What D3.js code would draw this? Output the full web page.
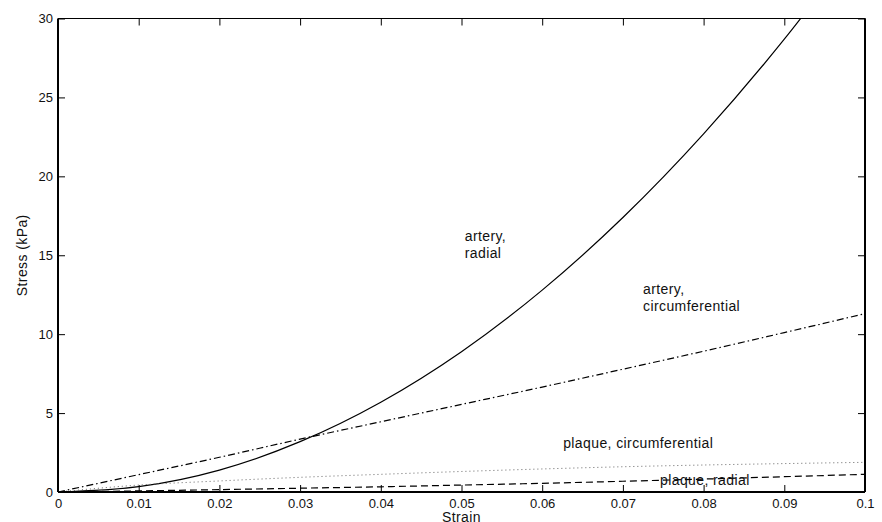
<!DOCTYPE html>
<html>
<head>
<meta charset="utf-8">
<script src="https://cdn.jsdelivr.net/npm/d3@7"></script>
<style>
  html, body { margin: 0; padding: 0; background: #fff; }
  svg { display: block; }
  text { font-family: "Liberation Sans", Arial, Helvetica, sans-serif; fill: #111; }
  .lbl { font-size: 14px; letter-spacing: 0.4px; }
</style>
</head>
<body>
<svg id="chart" width="882" height="522"></svg>
<script>
// ---- data ----
const strain = [0, 0.01, 0.02, 0.03, 0.04, 0.05, 0.06, 0.07, 0.08, 0.09, 0.1];
const arteryRadial = [0, 0.34, 1.39, 3.19, 5.69, 8.89, 12.79, 17.39, 22.69, 28.69, 35.39];
const arteryCircumferential = [0, 1.1, 2.2, 3.35, 4.45, 5.55, 6.65, 7.78, 8.92, 10.1, 11.3];
const plaqueCircumferential = [0, 0.44, 0.70, 0.93, 1.12, 1.30, 1.46, 1.60, 1.71, 1.80, 1.88];
const plaqueRadial = [0, 0.07, 0.15, 0.24, 0.33, 0.44, 0.55, 0.68, 0.82, 0.97, 1.12];
const xTicks = [0, 0.01, 0.02, 0.03, 0.04, 0.05, 0.06, 0.07, 0.08, 0.09, 0.1];
const xTickLabels = ["0", "0.01", "0.02", "0.03", "0.04", "0.05", "0.06", "0.07", "0.08", "0.09", "0.1"];
const yTicks = [0, 5, 10, 15, 20, 25, 30];
const xLabel = "Strain";
const yLabel = "Stress (kPa)";
const labels = [
  { lines: ["artery,", "radial"], x: 0.0504, y: 15.9 },
  { lines: ["artery,", "circumferential"], x: 0.0725, y: 12.55 },
  { lines: ["plaque, circumferential"], x: 0.0626, y: 2.81 },
  { lines: ["plaque, radial"], x: 0.0746, y: 0.44 }
];

// ---- layout ----
const svg = d3.select("#chart");
const x0 = 58, x1 = 865, y0 = 492, y1 = 18.5;

const x = d3.scaleLinear().domain([0, 0.1]).range([x0, x1]);
const y = d3.scaleLinear().domain([0, 30]).range([y0, y1]);

svg.append("defs").append("clipPath").attr("id", "clip")
  .append("rect").attr("x", x0).attr("y", y1).attr("width", x1 - x0).attr("height", y0 - y1);

// axes (ticks inward on all sides)
const tl = 7;
const styleText = g => g.selectAll("text").attr("font-size", 13)
  .style("font-family", "Liberation Sans, Arial, sans-serif").attr("fill", "#111");
svg.append("g").attr("transform", `translate(0,${y0})`)
  .call(d3.axisBottom(x).tickValues(xTicks).tickSizeInner(-tl).tickSizeOuter(0).tickPadding(7)
    .tickFormat((d, i) => xTickLabels[i]))
  .call(g => g.select(".domain").remove())
  .call(styleText);
svg.append("g").attr("transform", `translate(0,${y1})`)
  .call(d3.axisTop(x).tickValues(xTicks).tickSizeInner(-tl).tickSizeOuter(0).tickFormat(""))
  .call(g => g.select(".domain").remove());
svg.append("g").attr("transform", `translate(${x0},0)`)
  .call(d3.axisLeft(y).tickValues(yTicks).tickSizeInner(-tl).tickSizeOuter(0).tickPadding(5))
  .call(g => g.select(".domain").remove())
  .call(styleText);
svg.append("g").attr("transform", `translate(${x1},0)`)
  .call(d3.axisRight(y).tickValues(yTicks).tickSizeInner(-tl).tickSizeOuter(0).tickFormat(""))
  .call(g => g.select(".domain").remove());
svg.selectAll(".tick line").attr("stroke", "#000").attr("stroke-width", 1);

// curves
const line = d3.line().x(d => x(d[0])).y(d => y(d[1])).curve(d3.curveMonotoneX);
const series = [
  { v: arteryRadial, dash: null, color: "#000", w: 1.2 },
  { v: arteryCircumferential, dash: "7,3,1.5,3", color: "#000", w: 1.2 },
  { v: plaqueCircumferential, dash: "1,3", color: "#666", w: 1 },
  { v: plaqueRadial, dash: "7,4", color: "#000", w: 1.2 }
];
const gc = svg.append("g").attr("clip-path", "url(#clip)");
series.forEach(s => {
  gc.append("path")
    .datum(strain.map((t, i) => [t, s.v[i]]))
    .attr("d", line)
    .attr("fill", "none")
    .attr("stroke", s.color)
    .attr("stroke-width", s.w)
    .attr("stroke-dasharray", s.dash);
});

// box
svg.append("line").attr("x1", x0).attr("x2", x1).attr("y1", y1).attr("y2", y1).attr("stroke", "#000").attr("stroke-width", 1.2);
svg.append("line").attr("x1", x0).attr("x2", x1).attr("y1", y0).attr("y2", y0).attr("stroke", "#000").attr("stroke-width", 2);
svg.append("line").attr("x1", x0).attr("x2", x0).attr("y1", y1).attr("y2", y0).attr("stroke", "#000").attr("stroke-width", 2);
svg.append("line").attr("x1", x1).attr("x2", x1).attr("y1", y1).attr("y2", y0).attr("stroke", "#000").attr("stroke-width", 2);

// annotations
labels.forEach(l => {
  const t = svg.append("text").attr("class", "lbl").attr("x", x(l.x)).attr("y", y(l.y));
  l.lines.forEach((s, i) => {
    t.append("tspan").attr("x", x(l.x)).attr("dy", i === 0 ? 0 : 17).text(s);
  });
});

// axis titles
svg.append("text").attr("class", "lbl").attr("x", (x0 + x1) / 2).attr("y", 521.5).attr("text-anchor", "middle").text(xLabel);
svg.append("text").attr("class", "lbl").attr("transform", `translate(26.5,${(y0 + y1) / 2}) rotate(-90)`).attr("text-anchor", "middle").text(yLabel);
</script>
</body>
</html>
